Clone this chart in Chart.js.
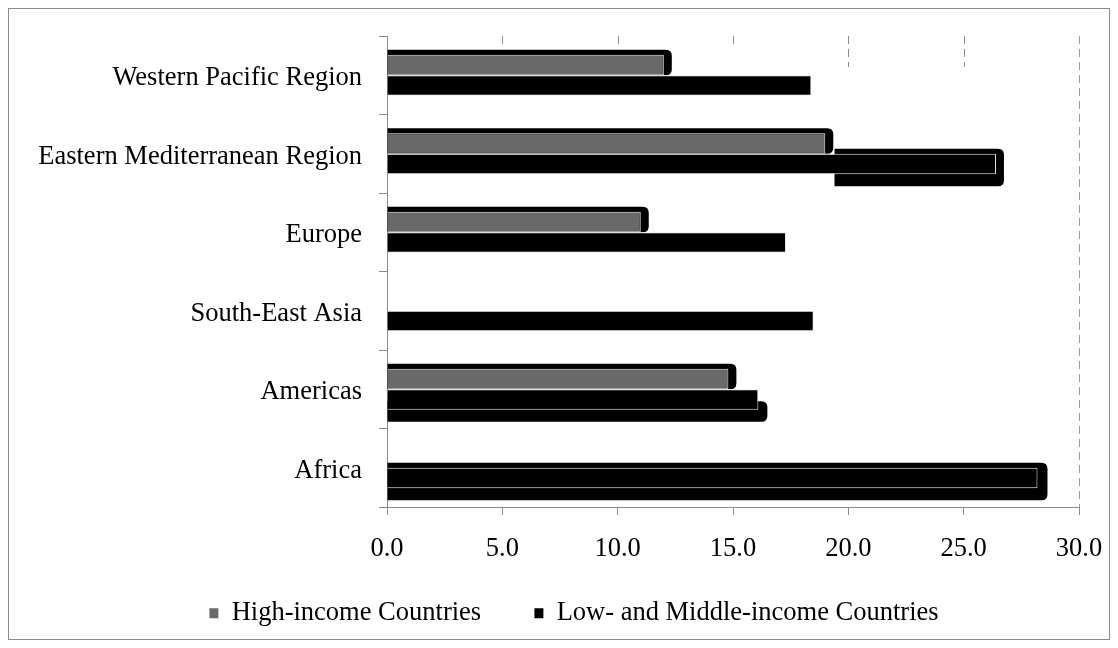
<!DOCTYPE html>
<html>
<head>
<meta charset="utf-8">
<script src="https://cdn.jsdelivr.net/npm/chart.js@4/dist/chart.umd.min.js"></script>
<style>
  html, body { margin: 0; padding: 0; background: #fff; }
  #wrap { width: 1118px; height: 648px; }
</style>
</head>
<body>
<div id="wrap"><canvas id="c" width="1118" height="648"></canvas></div>
<script>
// Regions, top to bottom
const regions = ['Western Pacific Region', 'Eastern Mediterranean Region', 'Europe', 'South-East Asia', 'Americas', 'Africa'];
// Values per region (null = no bar)
const highIncome = [12.0, 19.0, 11.0, null, 14.8, null];
const lowMiddleIncome = [18.4, 26.4, 17.3, 18.5, 16.1, 28.2];
// Value axis
const xMin = 0;
const xMax = 30;
const xStep = 5;

const FONT = 'Liberation Serif, "Times New Roman", serif';
const FONT_SIZE = 26.5;
const AXIS_GREY = '#8c8c8c';

// Dark offset "shadow" blocks behind some bars (pixel growth around the bar)
const shadowSpecs = {
  0: highIncome.map(v => v == null ? null : { top: -5, right: 8, bottom: 0 }),
  1: [null, { from: 19.4, top: -5, right: 8, bottom: 12 }, null, null,
      { top: 12, right: 9, bottom: 12 }, { top: -5, right: 10, bottom: 12 }]
};

function roundRight(ctx, x0, y0, x1, y1, r) {
  ctx.beginPath();
  ctx.moveTo(x0, y0);
  ctx.lineTo(x1 - r, y0);
  ctx.quadraticCurveTo(x1, y0, x1, y0 + r);
  ctx.lineTo(x1, y1 - r);
  ctx.quadraticCurveTo(x1, y1, x1 - r, y1);
  ctx.lineTo(x0, y1);
  ctx.closePath();
  ctx.fill();
}

const decorPlugin = {
  id: 'decor',
  beforeDraw(chart) {
    const ctx = chart.ctx;
    ctx.save();
    ctx.fillStyle = '#fff';
    ctx.fillRect(0, 0, chart.width, chart.height);
    ctx.strokeStyle = AXIS_GREY;
    ctx.lineWidth = 1;
    ctx.strokeRect(8.5, 8.5, chart.width - 17, chart.height - 17);
    ctx.restore();
  },
  beforeDatasetsDraw(chart) {
    const ctx = chart.ctx;
    const area = chart.chartArea;
    const xs = chart.scales.x;
    ctx.save();
    // short marks hanging from the top of the plot
    ctx.strokeStyle = AXIS_GREY;
    ctx.lineWidth = 1;
    [5, 10, 15].forEach(v => {
      const px = Math.round(xs.getPixelForValue(v)) + 0.5;
      ctx.beginPath(); ctx.moveTo(px, area.top); ctx.lineTo(px, area.top + 8); ctx.stroke();
    });
    ctx.setLineDash([8, 5]);
    [20, 25].forEach(v => {
      const px = Math.round(xs.getPixelForValue(v)) + 0.5;
      ctx.beginPath(); ctx.moveTo(px, area.top); ctx.lineTo(px, area.top + 31); ctx.stroke();
    });
    ctx.setLineDash([]);
    // bar shadows
    ctx.fillStyle = '#000';
    Object.keys(shadowSpecs).forEach(di => {
      const meta = chart.getDatasetMeta(+di);
      meta.data.forEach((bar, i) => {
        const s = shadowSpecs[di][i];
        if (!s) return;
        const p = bar.getProps(['x', 'y', 'base', 'height'], true);
        const top = p.y - p.height / 2 + s.top;
        const bottom = p.y + p.height / 2 + s.bottom;
        const left = s.from != null ? xs.getPixelForValue(s.from) : p.base;
        const right = p.x + s.right;
        roundRight(ctx, left, top, right, bottom, 6);
      });
    });
    ctx.restore();
  }
};

new Chart(document.getElementById('c'), {
  type: 'bar',
  data: {
    labels: regions,
    datasets: [
      {
        label: 'High-income Countries',
        data: highIncome,
        backgroundColor: '#696969',
        borderColor: '#f2f2f2',
        borderWidth: 1,
        borderSkipped: 'start'
      },
      {
        label: 'Low- and Middle-income Countries',
        data: lowMiddleIncome,
        backgroundColor: '#000000',
        borderColor: '#f2f2f2',
        borderWidth: 1,
        borderSkipped: 'start'
      }
    ]
  },
  options: {
    indexAxis: 'y',
    responsive: false,
    animation: false,
    devicePixelRatio: 1,
    categoryPercentage: 0.52,
    barPercentage: 1.0,
    layout: { padding: { left: 30, right: 0, top: 36, bottom: 11.5 } },
    scales: {
      x: {
        min: xMin,
        max: xMax,
        ticks: {
          stepSize: xStep,
          callback: v => Number(v).toFixed(1),
          font: { family: FONT, size: FONT_SIZE },
          color: '#000',
          padding: 18,
          maxRotation: 0
        },
        grid: {
          color: c => (c.tick && c.tick.value === xMax) ? '#9a9a9a' : 'rgba(0,0,0,0)',
          tickColor: AXIS_GREY,
          tickLength: 8,
          tickBorderDash: []
        },
        border: { color: AXIS_GREY, width: 1, dash: [8, 5] },
        afterFit: s => { s.height = 53; s.paddingRight = 0; s.paddingLeft = 0; }
      },
      y: {
        offset: true,
        ticks: {
          font: { family: FONT, size: FONT_SIZE },
          color: '#000',
          padding: 17,
          labelOffset: 3
        },
        grid: {
          offset: true,
          drawOnChartArea: false,
          tickColor: AXIS_GREY,
          tickLength: 8
        },
        border: { color: AXIS_GREY, width: 1 },
        afterFit: s => { s.width = 357; }
      },
      // empty margin to the right of the plot
      yRight: {
        type: 'linear',
        position: 'right',
        display: true,
        ticks: { display: false },
        grid: { display: false, drawTicks: false },
        border: { display: false },
        afterFit: s => { s.width = 39; }
      }
    },
    plugins: {
      tooltip: { enabled: false },
      legend: {
        position: 'bottom',
        labels: {
          font: { family: FONT, size: FONT_SIZE },
          color: '#000',
          boxWidth: 9,
          boxHeight: 10,
          padding: 40,
          generateLabels(chart) {
            const items = Chart.defaults.plugins.legend.labels.generateLabels(chart);
            items.forEach((it, i) => {
              it.lineWidth = 0;
              it.strokeStyle = 'rgba(0,0,0,0)';
              if (i === 0) it.text = it.text + '\u00a0\u00a0';
            });
            return items;
          }
        }
      }
    }
  },
  plugins: [decorPlugin]
});
</script>
</body>
</html>
